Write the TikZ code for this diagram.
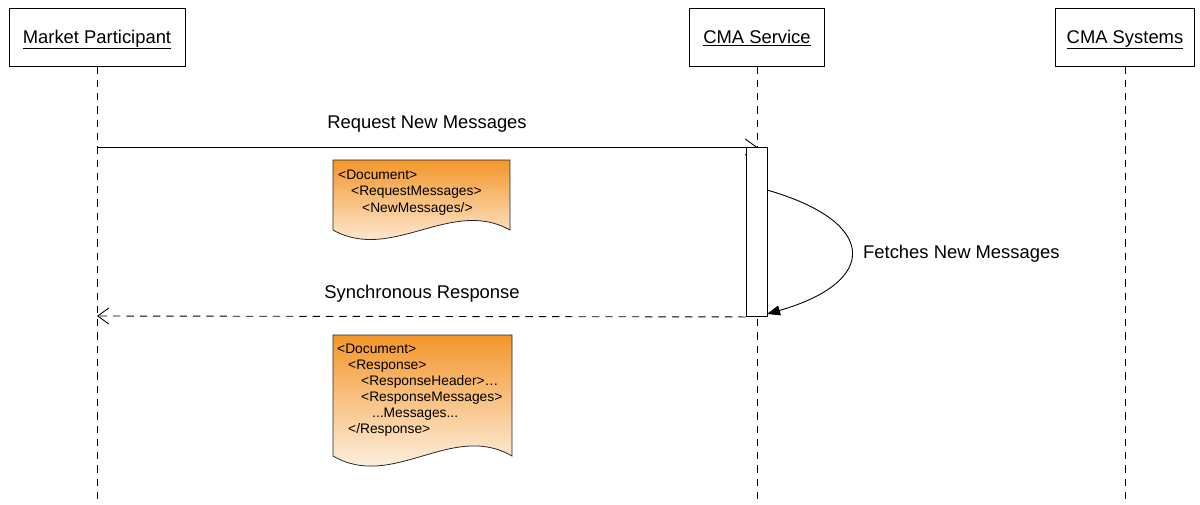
\documentclass[tikz,border=0pt]{standalone}
\usepackage{fontspec}
\setmainfont{Liberation Sans}
\usetikzlibrary{arrows.meta}
\definecolor{docTop}{RGB}{243,150,42}
\definecolor{docMid}{RGB}{248,196,140}
\definecolor{docBot}{RGB}{255,255,255}
\begin{document}
\begin{tikzpicture}[x=1pt,y=-1pt,
  headbox/.style={draw, line width=0.9pt, inner sep=0pt, minimum height=58pt,
    text height=16pt, text depth=3.4pt, font=\fontsize{18.4}{22}\selectfont},
  lifeline/.style={line width=0.9pt, dash pattern=on 7.3pt off 6pt},
  msgtext/.style={inner sep=0pt, font=\fontsize{18.4}{22}\selectfont},
  doctext/.style={inner sep=0pt, anchor=base west, font=\fontsize{13.8}{16.5}\selectfont},
  docshape/.style={draw=black!85, line width=0.8pt, top color=docTop, middle color=docMid, bottom color=docBot},
  actbox/.style={draw, fill=white, line width=0.9pt, minimum width=21pt, minimum height=169pt, inner sep=0pt},
  msgline/.style={line width=0.9pt},
]
\useasboundingbox (0,0) rectangle (1200,504);

% header boxes
\node[headbox, minimum width=176pt] (mp) at (97,37) {\underline{Market Participant}};
\node[headbox, minimum width=135pt] (cs) at (757,37) {\underline{CMA Service}};
\node[headbox, minimum width=139pt] (sys) at (1125,37) {\underline{CMA Systems}};

% lifeline ends
\coordinate (mpEnd) at (97,504);
\coordinate (csEnd) at (757,504);
\coordinate (sysEnd) at (1125,504);
\draw[lifeline] (mp.south) -- (mpEnd);
\draw[lifeline] (cs.south) -- (csEnd);
\draw[lifeline] (sys.south) -- (sysEnd);

% request message
\coordinate (mpReq) at (97,147);
\coordinate (csReq) at (757,147);
\draw[msgline, -{Straight Barb[length=11pt,width=16pt,line width=0.9pt]}] (mpReq) -- (csReq);
\node[msgtext, anchor=base] (reqLabel) at (427,128.5) {Request New Messages};

% activation bar
\node[actbox] (act) at (756.5,232) {};

% self call
\coordinate (selfStart) at (767,190);
\coordinate (selfEnd) at (767,314);
\draw[msgline, -{Triangle[length=13pt,width=10pt]}] (selfStart) .. controls (879,222) and (879,282) .. (selfEnd);
\node[msgtext, anchor=base west] (fetchLabel) at (863,258.5) {Fetches New Messages};

% response message
\coordinate (mpResp) at (97,316);
\draw[msgline, dash pattern=on 7.3pt off 6pt, -{Straight Barb[length=11pt,width=16pt,line width=0.9pt]}] (act.south west) -- (mpResp);
\node[msgtext, anchor=base] (respLabel) at (422,298) {Synchronous Response};

% document 1
\path[docshape] (333,160) -- (510,160) -- (510,230)
  .. controls (451,197) and (392,263) .. (333,230) -- cycle;
\node[doctext] (d1a) at (338,179) {<Document>};
\node[doctext] (d1b) at (351,195.5) {<RequestMessages>};
\node[doctext] (d1c) at (362,212) {<NewMessages/>};

% document 2
\path[docshape] (333,335) -- (512,335) -- (512,456)
  .. controls (452,421) and (393,491) .. (333,456) -- cycle;
\node[doctext] (d2a) at (337,353) {<Document>};
\node[doctext] (d2b) at (348,369) {<Response>};
\node[doctext] (d2c) at (361,385) {<ResponseHeader>…};
\node[doctext] (d2d) at (361,401) {<ResponseMessages>};
\node[doctext] (d2e) at (372,417) {...Messages...};
\node[doctext] (d2f) at (348,433) {</Response>};
\end{tikzpicture}
\end{document}
